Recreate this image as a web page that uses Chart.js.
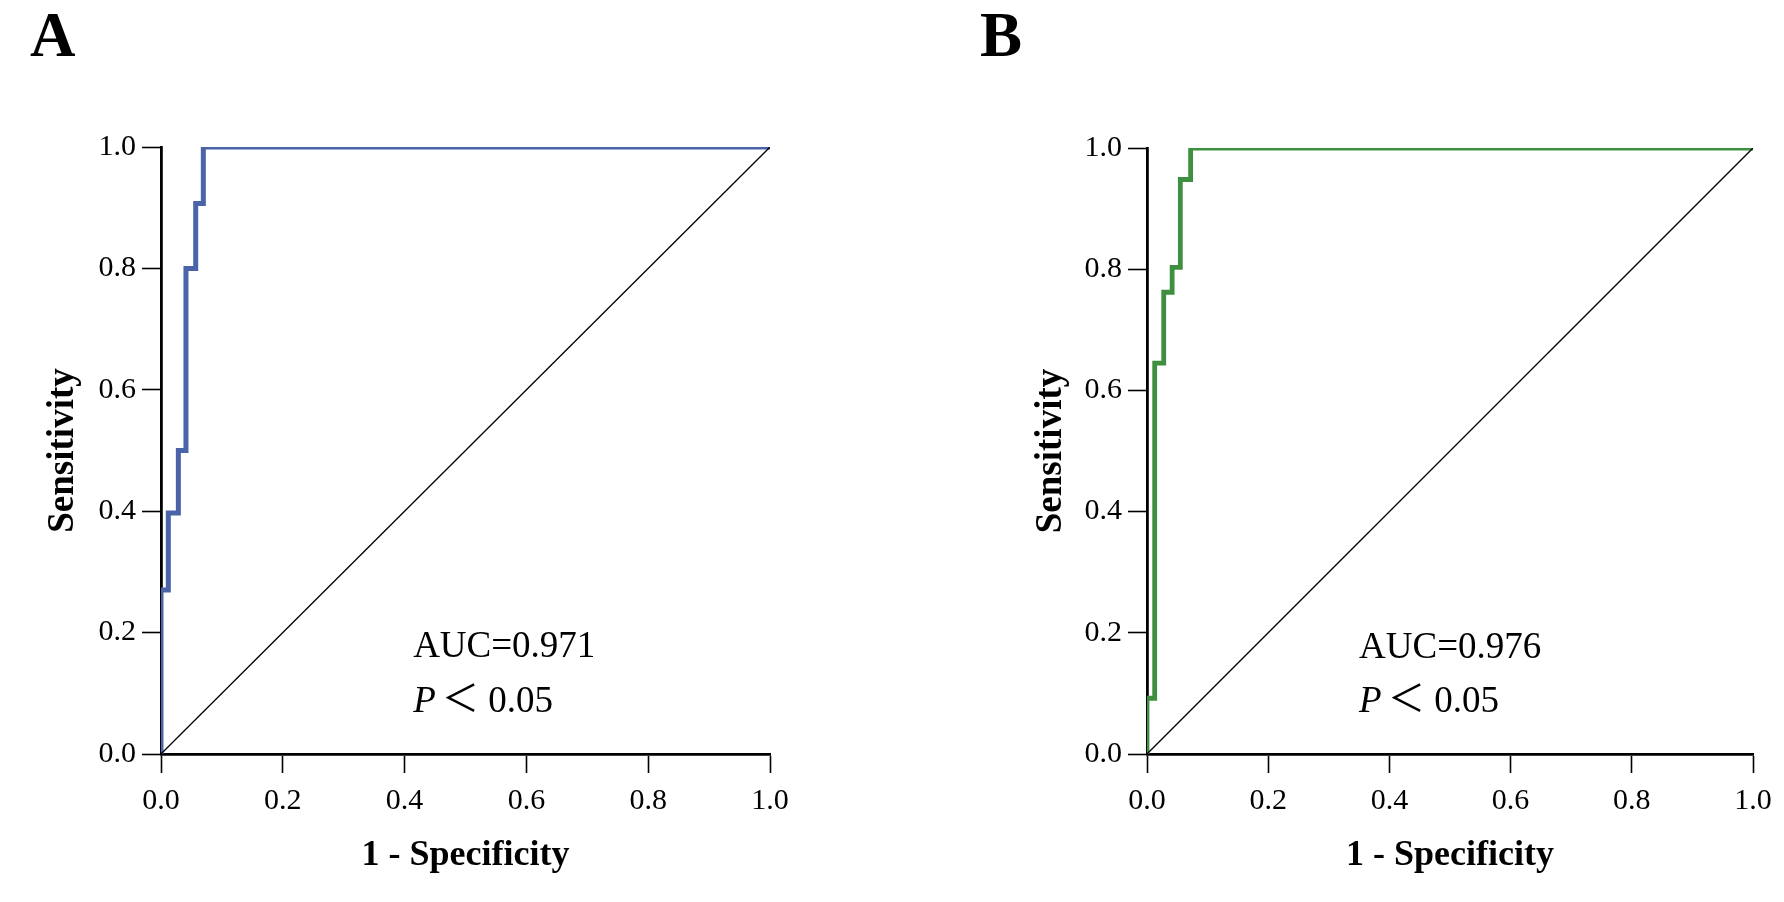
<!DOCTYPE html>
<html>
<head>
<meta charset="utf-8">
<script src="https://cdn.jsdelivr.net/npm/chart.js@4"></script>
<style>
  body { margin: 0; background: #fff; }
  .wrap { position: relative; width: 1784px; height: 902px; background: #fff; }
  canvas { position: absolute; top: 0; }
  #chartA { left: 0; }
  #chartB { left: 892px; }
</style>
</head>
<body>
<div class="wrap">
  <canvas id="chartA" width="892" height="902"></canvas>
  <canvas id="chartB" width="892" height="902"></canvas>
</div>
<script>
//-----data-------
const fprA = [0, 0.012, 0.0285, 0.041, 0.057, 0.0695, 1];
const tprA = [0, 0.27, 0.397, 0.5, 0.8, 0.907, 1];
const fprB = [0, 0.0127, 0.0276, 0.0415, 0.055, 0.072, 1];
const tprB = [0, 0.092, 0.645, 0.762, 0.803, 0.948, 1];
const diagX = [0, 1];
const diagY = [0, 1];
const tickValues = [0, 0.2, 0.4, 0.6, 0.8, 1.0];
const aucA = 'AUC=0.971';
const aucB = 'AUC=0.976';
const pText = ' \uFF1C 0.05';

const serif = "'Liberation Serif', 'Times New Roman', serif";

const toPoints = (xs, ys) => xs.map((x, i) => ({x: x, y: ys[i]}));

// text inside the plot + panel letter
const notePlugin = {
    id: 'note',
    afterDatasetsDraw(chart, args, opts) {
        const c = chart.ctx;
        const sx = chart.scales.x, sy = chart.scales.y;
        c.save();
        c.fillStyle = '#000';
        c.textBaseline = 'alphabetic';
        c.textAlign = 'left';
        // panel letter
        c.font = "bold 63px " + serif;
        c.fillText(opts.letter, opts.letterX, 56);
        // AUC
        const x0 = sx.getPixelForValue(opts.tx);
        c.font = "37px " + serif;
        c.fillText(opts.auc, x0, sy.getPixelForValue(opts.aucY));
        // P < 0.05
        const py = sy.getPixelForValue(opts.pY);
        c.font = "italic 37px " + serif;
        c.fillText('P', x0, py);
        const w = c.measureText('P').width;
        c.font = "37px " + serif + ", 'Noto Sans CJK SC'";
        c.fillText(pText, x0 + w - 3, py);
        c.restore();
    }
};

function makeChart(id, fpr, tpr, color, lw, box, note) {
    const ctx = document.getElementById(id).getContext('2d');
    return new Chart(ctx, {
        type: 'line',
        data: {
            datasets: [
                {
                    data: toPoints(diagX, diagY),
                    borderColor: '#000',
                    borderWidth: 1.3,
                    pointRadius: 0,
                },
                {
                    data: toPoints(fpr, tpr),
                    borderColor: color,
                    borderWidth: lw,
                    stepped: 'after',
                    pointRadius: 0,
                    borderJoinStyle: 'miter',
                },
            ],
        },
        options: {
            responsive: false,
            animation: false,
            devicePixelRatio: 1,
            layout: {
                padding: {left: 0, right: box.right, top: box.top, bottom: 0},
            },
            plugins: {
                legend: {display: false},
                tooltip: {enabled: false},
                note: note,
            },
            scales: {
                x: {
                    type: 'linear',
                    min: 0,
                    max: 1,
                    afterBuildTicks: s => { s.ticks = tickValues.map(v => ({value: v})); },
                    afterFit: s => { s.height = 902 - 754; },
                    border: {color: '#000', width: 2.8},
                    grid: {drawOnChartArea: false, tickLength: 19, tickWidth: 1.6, tickColor: '#000'},
                    ticks: {
                        color: '#000',
                        padding: 10,
                        maxRotation: 0,
                        font: {family: serif, size: 30},
                        callback: v => v.toFixed(1),
                    },
                    title: {
                        display: true,
                        text: '1 - Specificity',
                        color: '#000',
                        font: {family: serif, size: 36, weight: 'bold'},
                        padding: {top: 0, bottom: 25},
                    },
                },
                y: {
                    type: 'linear',
                    min: 0,
                    max: 1,
                    afterBuildTicks: s => { s.ticks = tickValues.map(v => ({value: v})); },
                    afterFit: s => { s.width = box.left; },
                    border: {color: '#000', width: 2.8},
                    grid: {drawOnChartArea: false, tickLength: 19, tickWidth: 1.6, tickColor: '#000'},
                    ticks: {
                        color: '#000',
                        padding: 6,
                        font: {family: serif, size: 30},
                        callback: v => v.toFixed(1),
                    },
                    title: {
                        display: true,
                        text: 'Sensitivity',
                        color: '#000',
                        font: {family: serif, size: 37, weight: 'bold'},
                        padding: {top: box.titlePad, bottom: 0},
                    },
                },
            },
        },
        plugins: [notePlugin],
    });
}

makeChart('chartA', fprA, tprA, '#4a63a9', 5,
    {left: 161, right: 122, top: 147, titlePad: 41},
    {letter: 'A', letterX: 30, auc: aucA, tx: 0.414, aucY: 0.159, pY: 0.0695});

makeChart('chartB', fprB, tprB, '#3e9040', 4.8,
    {left: 255, right: 31, top: 148, titlePad: 137},
    {letter: 'B', letterX: 88, auc: aucB, tx: 0.35, aucY: 0.159, pY: 0.0695});
</script>
</body>
</html>
